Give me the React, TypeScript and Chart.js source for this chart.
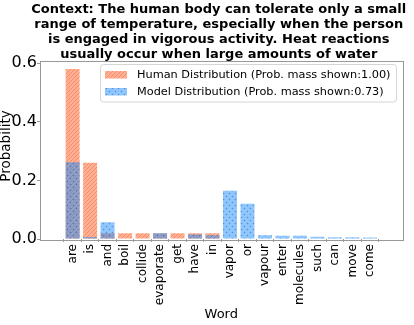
import React, { useEffect, useRef } from 'react';
import { Chart, registerables } from 'chart.js';

Chart.register(...registerables);

const FONT = '"DejaVu Sans", sans-serif';

const titleLines = [
  'Context: The human body can tolerate only a small',
  'range of temperature, especially when the person',
  'is engaged in vigorous activity. Heat reactions',
  'usually occur when large amounts of water',
];

const words = [
  'are', 'is', 'and', 'boil', 'collide', 'evaporate', 'get', 'have', 'in',
  'vapor', 'or', 'vapour', 'enter', 'molecules', 'such', 'can', 'move', 'come',
];

const humanValues = [
  0.58, 0.26, 0.02, 0.02, 0.02, 0.02, 0.02, 0.02, 0.02,
  0, 0, 0, 0, 0, 0, 0, 0, 0,
];

const modelValues = [
  0.262, 0.007, 0.057, 0, 0, 0.02, 0, 0.015, 0.013,
  0.165, 0.12, 0.013, 0.011, 0.011, 0.008, 0.006, 0.006, 0.005,
];

const yTicks = [0, 0.2, 0.4, 0.6];

const humanLabel = 'Human Distribution (Prob. mass shown:1.00)';
const modelLabel = 'Model Distribution (Prob. mass shown:0.73)';

function makeDiagPattern(ctx: CanvasRenderingContext2D) {
  const s = 4;
  const c = document.createElement('canvas');
  c.width = s;
  c.height = s;
  const g = c.getContext('2d')!;
  g.fillStyle = 'rgba(255,127,80,0.62)';
  g.fillRect(0, 0, s, s);
  g.strokeStyle = 'rgba(240,110,70,0.55)';
  g.lineWidth = 1;
  g.beginPath();
  g.moveTo(0, s);
  g.lineTo(s, 0);
  g.moveTo(-1, 1);
  g.lineTo(1, -1);
  g.moveTo(s - 1, s + 1);
  g.lineTo(s + 1, s - 1);
  g.stroke();
  return ctx.createPattern(c, 'repeat')!;
}

function makeDotPattern(ctx: CanvasRenderingContext2D) {
  const s = 6;
  const c = document.createElement('canvas');
  c.width = s;
  c.height = s;
  const g = c.getContext('2d')!;
  g.fillStyle = 'rgba(30,144,255,0.5)';
  g.fillRect(0, 0, s, s);
  g.fillStyle = 'rgba(40,70,130,0.45)';
  g.beginPath();
  g.arc(1.5, 1.5, 0.8, 0, Math.PI * 2);
  g.arc(4.5, 4.5, 0.8, 0, Math.PI * 2);
  g.fill();
  return ctx.createPattern(c, 'repeat')!;
}

export default function App() {
  const ref = useRef<HTMLCanvasElement>(null);

  useEffect(() => {
    const canvas = ref.current!;
    const ctx = canvas.getContext('2d')!;
    const humanFill = makeDiagPattern(ctx);
    const modelFill = makeDotPattern(ctx);

    const decor = {
      id: 'decor',
      afterDraw(chart: any) {
        const c = chart.ctx as CanvasRenderingContext2D;
        const a = chart.chartArea;
        const cx = (a.left + a.right) / 2;
        c.save();
        // frame
        c.strokeStyle = '#999999';
        c.lineWidth = 1;
        c.strokeRect(Math.round(a.left) + 0.5, Math.round(a.top) + 0.5,
          Math.round(a.right - a.left), Math.round(a.bottom - a.top));
        // title
        c.fillStyle = '#000';
        c.font = `bold 13px ${FONT}`;
        c.textAlign = 'center';
        c.textBaseline = 'alphabetic';
        titleLines.forEach((t, i) => c.fillText(t, cx - 2.5, 12.9 + i * 15.1));
        // x label
        c.font = `13px ${FONT}`;
        c.textBaseline = 'middle';
        c.fillText('Word', cx, 315);
        // y label
        c.save();
        c.translate(6.5, 146);
        c.rotate(-Math.PI / 2);
        c.font = `13.5px ${FONT}`;
        c.fillText('Probability', 0, 0);
        c.restore();
        // legend
        const lx = 100.5, ly = 64.5, lw = 296, lh = 37.5;
        c.beginPath();
        (c as any).roundRect(lx, ly, lw, lh, 3);
        c.fillStyle = 'rgba(255,255,255,0.8)';
        c.fill();
        c.strokeStyle = '#d6d6d6';
        c.stroke();
        c.fillStyle = humanFill;
        c.fillRect(105, 71, 22, 7.5);
        c.fillStyle = modelFill;
        c.fillRect(105, 88, 22, 7.5);
        c.fillStyle = '#000';
        c.font = `11.3px ${FONT}`;
        c.textAlign = 'left';
        c.textBaseline = 'middle';
        c.fillText(humanLabel, 137, 74.8);
        c.fillText(modelLabel, 137, 92);
        c.restore();
      },
    };

    const axisGrid = {
      display: true,
      drawOnChartArea: false,
      drawTicks: true,
      tickLength: 3,
      color: '#999999',
    };

    const chart = new Chart(canvas, {
      type: 'bar',
      data: {
        datasets: [
          {
            label: humanLabel,
            data: humanValues.map((v, i) => ({ x: i, y: v })),
            backgroundColor: humanFill,
            borderWidth: 0,
            grouped: false,
            order: 2,
            categoryPercentage: 0.8,
            barPercentage: 1,
          } as any,
          {
            label: modelLabel,
            data: modelValues.map((v, i) => ({ x: i, y: v })),
            backgroundColor: modelFill,
            borderWidth: 0,
            grouped: false,
            order: 1,
            categoryPercentage: 0.8,
            barPercentage: 1,
          } as any,
        ],
      },
      options: {
        animation: false,
        responsive: true,
        maintainAspectRatio: false,
        layout: { padding: { top: 60.5, right: 11.5, left: 0, bottom: 0 } },
        plugins: {
          legend: { display: false },
          title: { display: false },
          tooltip: { enabled: false },
        },
        scales: {
          x: {
            type: 'linear',
            min: -1.29,
            max: 18.29,
            afterBuildTicks: (s: any) => {
              s.ticks = words.map((_, i) => ({ value: i }));
            },
            afterFit: (s: any) => {
              s.height = 86;
            },
            ticks: {
              autoSkip: false,
              minRotation: 90,
              maxRotation: 90,
              padding: 2,
              color: '#000',
              font: { family: FONT, size: 12 },
              callback: (v: any) => words[Math.round(Number(v))] ?? '',
            },
            grid: axisGrid,
            border: { display: false },
          },
          y: {
            min: 0,
            max: 0.609,
            afterBuildTicks: (s: any) => {
              s.ticks = yTicks.map((v) => ({ value: v }));
            },
            afterFit: (s: any) => {
              s.width = 40;
            },
            ticks: {
              padding: 0,
              color: '#000',
              font: { family: FONT, size: 16 },
              callback: (v: any) => Number(v).toFixed(1),
            },
            grid: axisGrid,
            border: { display: false },
          },
        } as any,
      },
      plugins: [decor],
    });

    return () => chart.destroy();
  }, []);

  return (
    <div style={{ position: 'fixed', left: 0, top: 0, width: 414, height: 325, background: '#fff' }}>
      <canvas ref={ref} />
    </div>
  );
}
